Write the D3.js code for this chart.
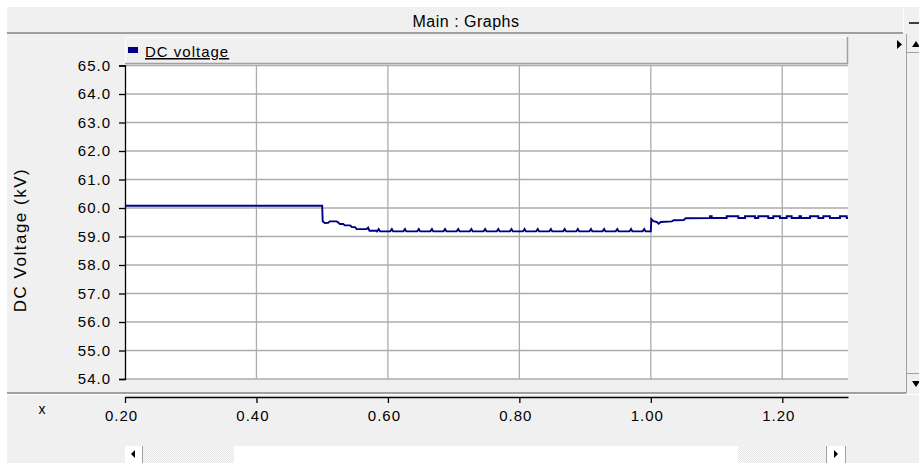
<!DOCTYPE html>
<html><head><meta charset="utf-8">
<script src="https://cdn.jsdelivr.net/npm/d3@7"></script>
<style>
html,body{margin:0;padding:0;background:#fff;overflow:hidden}
svg{display:block;font-family:"Liberation Sans",Arial,sans-serif}
</style></head><body>
<svg id="chart" width="919" height="463"></svg>
<script>
// ---------------- data ----------------
const chartTitle = "Main : Graphs";
const yAxisTitle = "DC Voltage (kV)";
const xAxisTitle = "x";
const seriesName = "DC voltage";
const xTickValues = [0.2, 0.4, 0.6, 0.8, 1.0, 1.2];
const yTickValues = [54, 55, 56, 57, 58, 59, 60, 61, 62, 63, 64, 65];
const xDomain = [0.2, 1.3];
const yDomain = [54, 65];
// [time (s), DC voltage (kV)]
const dcVoltage = [
  [0.200,60.08],[0.5000,60.08],[0.5008,59.53],[0.5040,59.47],[0.5090,59.48],[0.5115,59.53],
  [0.5220,59.53],[0.5245,59.49],[0.5270,59.44],[0.5320,59.44],[0.5345,59.39],[0.5425,59.39],
  [0.5440,59.36],[0.5450,59.33],[0.5500,59.33],[0.5525,59.26],[0.5675,59.26],[0.5700,59.31],
  [0.5720,59.20],[0.5830,59.20],
  [0.5835,59.18],[0.586,59.26],[0.588,59.18],
  [0.6035,59.18],[0.606,59.26],[0.608,59.18],
  [0.6235,59.18],[0.626,59.26],[0.628,59.18],
  [0.6445,59.18],[0.647,59.26],[0.649,59.18],
  [0.6645,59.18],[0.667,59.26],[0.669,59.18],
  [0.6845,59.18],[0.687,59.26],[0.689,59.18],
  [0.7045,59.18],[0.707,59.26],[0.709,59.18],
  [0.7245,59.18],[0.727,59.26],[0.729,59.18],
  [0.7455,59.18],[0.748,59.26],[0.750,59.18],
  [0.7655,59.18],[0.768,59.26],[0.770,59.18],
  [0.7855,59.18],[0.788,59.26],[0.790,59.18],
  [0.8055,59.18],[0.808,59.26],[0.810,59.18],
  [0.8255,59.18],[0.828,59.26],[0.830,59.18],
  [0.8455,59.18],[0.848,59.26],[0.850,59.18],
  [0.8665,59.18],[0.869,59.26],[0.871,59.18],
  [0.8865,59.18],[0.889,59.26],[0.891,59.18],
  [0.9065,59.18],[0.909,59.26],[0.911,59.18],
  [0.9265,59.18],[0.929,59.26],[0.931,59.18],
  [0.9465,59.18],[0.949,59.26],[0.951,59.18],
  [0.9675,59.18],[0.970,59.26],[0.972,59.18],
  [0.9875,59.18],[0.990,59.26],[0.992,59.18],
  [1.0000,59.18],
  [1.0008,59.61],[1.0040,59.54],[1.0090,59.51],[1.0120,59.45],[1.0150,59.51],[1.0320,59.53],
  [1.0350,59.57],[1.0500,59.58],[1.0530,59.64],[1.0900,59.65],
  [1.0900,59.71],[1.0926,59.71],[1.0926,59.65],
  [1.1154,59.65],[1.1154,59.71],[1.1331,59.71],[1.1331,59.65],
  [1.1433,59.65],[1.1433,59.71],[1.1585,59.71],[1.1585,59.65],
  [1.1635,59.65],[1.1635,59.71],[1.1787,59.71],[1.1787,59.65],
  [1.1863,59.65],[1.1863,59.71],[1.1965,59.71],[1.1965,59.65],
  [1.2067,59.65],[1.2067,59.71],[1.2143,59.71],[1.2143,59.65],
  [1.2260,59.65],[1.2260,59.71],[1.2285,59.71],[1.2285,59.65],
  [1.2422,59.65],[1.2422,59.71],[1.2548,59.71],[1.2548,59.65],
  [1.2624,59.65],[1.2624,59.71],[1.2725,59.71],[1.2725,59.65],
  [1.2878,59.65],[1.2878,59.71],[1.2980,59.71],[1.2980,59.65],
  [1.3000,59.65]
];

// ---------------- layout ----------------
const svg = d3.select("#chart");
const panel = "#f0f0f0", edge = "#a0a0a0", grid = "#acacac", navy = "#000080";
const plotL = 125, plotR = 848, plotT = 65.5, plotB = 379;

const defs = svg.append("defs");
const pat = defs.append("pattern").attr("id","hatch").attr("width",2).attr("height",2)
  .attr("patternUnits","userSpaceOnUse");
pat.append("rect").attr("width",2).attr("height",2).attr("fill","#fff");
pat.append("rect").attr("width",1).attr("height",1).attr("fill","#e2e2e2");
pat.append("rect").attr("x",1).attr("y",1).attr("width",1).attr("height",1).attr("fill","#e2e2e2");
defs.append("clipPath").attr("id","plotclip").append("rect")
  .attr("x",plotL).attr("y",plotT).attr("width",plotR-plotL).attr("height",plotB-plotT);

// widget background
svg.append("rect").attr("x",7).attr("y",7).attr("width",912).attr("height",456).attr("fill",panel);
// title bar
svg.append("line").attr("x1",7).attr("x2",903).attr("y1",33).attr("y2",33).attr("stroke",edge).attr("stroke-width",2);
svg.append("text").attr("x",466).attr("y",27).attr("text-anchor","middle")
  .attr("font-size",16).attr("letter-spacing",0.5).attr("fill","#000").text(chartTitle);
// minimize button
svg.append("rect").attr("x",903).attr("y",8).attr("width",16).attr("height",25).attr("fill",panel);
svg.append("line").attr("x1",903.5).attr("x2",903.5).attr("y1",8).attr("y2",33).attr("stroke","#fff");
svg.append("line").attr("x1",909).attr("x2",919).attr("y1",23).attr("y2",23).attr("stroke","#000").attr("stroke-width",1.5);

// right vertical scrollbar
svg.append("line").attr("x1",906.5).attr("x2",906.5).attr("y1",34).attr("y2",393).attr("stroke",edge);
svg.append("line").attr("x1",907).attr("x2",919).attr("y1",52.5).attr("y2",52.5).attr("stroke",edge);
svg.append("line").attr("x1",907).attr("x2",919).attr("y1",373.5).attr("y2",373.5).attr("stroke",edge);
svg.append("path").attr("d","M912,47 L920,47 L916,41 Z").attr("fill","#000");
svg.append("path").attr("d","M912,381 L920,381 L916,387 Z").attr("fill","#000");
svg.append("path").attr("d","M897,40 L902,44.5 L897,49 Z").attr("fill","#000");

// legend strip
svg.append("rect").attr("x",125).attr("y",37).attr("width",723).attr("height",27).attr("fill",panel);
svg.append("path").attr("d","M125.5,64 V37.5 H847").attr("fill","none").attr("stroke","#fff");
svg.append("path").attr("d","M125,63.5 H847.5 V37").attr("fill","none").attr("stroke",edge).attr("stroke-width",1.5);
svg.append("rect").attr("x",128).attr("y",47).attr("width",10).attr("height",6).attr("fill",navy);
svg.append("text").attr("x",145).attr("y",57).attr("font-size",15).attr("letter-spacing",1)
  .attr("text-decoration","underline").attr("fill","#000").text(seriesName);

// plot area
const x = d3.scaleLinear().domain(xDomain).range([plotL, plotR]);
const y = d3.scaleLinear().domain(yDomain).range([plotB, plotT]);
svg.append("rect").attr("x",plotL).attr("y",plotT).attr("width",plotR-plotL).attr("height",plotB-plotT).attr("fill","#fff");

svg.append("g").selectAll("line").data(xTickValues.slice(1)).join("line")
  .attr("x1",d=>x(d)).attr("x2",d=>x(d)).attr("y1",plotT).attr("y2",plotB)
  .attr("stroke",grid).attr("stroke-width",1.3);
svg.append("g").selectAll("line").data(yTickValues).join("line")
  .attr("x1",plotL).attr("x2",plotR).attr("y1",d=>y(d)).attr("y2",d=>y(d))
  .attr("stroke",grid).attr("stroke-width",1.3);

// series
const line = d3.line().x(d=>x(d[0])).y(d=>y(d[1]));
svg.append("path").datum(dcVoltage).attr("clip-path","url(#plotclip)")
  .attr("d",line).attr("fill","none").attr("stroke",navy).attr("stroke-width",1.9)
  .attr("stroke-linejoin","miter");

// y axis
const yAxis = svg.append("g").attr("transform",`translate(${plotL},0)`)
  .call(d3.axisLeft(y).tickValues(yTickValues).tickFormat(d3.format(".1f")).tickSize(6).tickPadding(8));
yAxis.selectAll("path,line").attr("stroke","#000").attr("stroke-width",1.3);
yAxis.selectAll("text").attr("font-size",15).attr("letter-spacing",1).attr("fill","#000")
  .attr("font-family","Liberation Sans, Arial, sans-serif");
svg.append("text").attr("transform","translate(26,240) rotate(-90)").attr("text-anchor","middle")
  .attr("font-size",17).attr("letter-spacing",1.5).attr("fill","#000").text(yAxisTitle);

// separator between plot and x axis
svg.append("line").attr("x1",7).attr("x2",906).attr("y1",393).attr("y2",393).attr("stroke",edge).attr("stroke-width",2);
svg.append("line").attr("x1",7).attr("x2",919).attr("y1",394.5).attr("y2",394.5).attr("stroke","#fff");

// x axis
const xAxis = svg.append("g").attr("transform","translate(0,397)")
  .call(d3.axisBottom(x).tickValues(xTickValues).tickFormat(d3.format(".2f")).tickSize(6).tickSizeOuter(0).tickPadding(7));
xAxis.selectAll("path,line").attr("stroke","#000").attr("stroke-width",1.3);
xAxis.selectAll("text").attr("font-size",15).attr("letter-spacing",1).attr("dx",-4).attr("fill","#000")
  .attr("font-family","Liberation Sans, Arial, sans-serif");
svg.append("text").attr("x",42).attr("y",414).attr("text-anchor","middle").attr("font-size",14).attr("fill","#000").text(xAxisTitle);

// bottom scrollbar
svg.append("rect").attr("x",125).attr("y",446).attr("width",721).attr("height",17).attr("fill","#fff");
svg.append("rect").attr("x",143).attr("y",446).attr("width",91).attr("height",17).attr("fill","url(#hatch)");
svg.append("rect").attr("x",738).attr("y",446).attr("width",88).attr("height",17).attr("fill","url(#hatch)");
svg.append("line").attr("x1",142.5).attr("x2",142.5).attr("y1",446).attr("y2",463).attr("stroke",edge);
svg.append("line").attr("x1",826.5).attr("x2",826.5).attr("y1",446).attr("y2",463).attr("stroke",edge);
svg.append("line").attr("x1",845.5).attr("x2",845.5).attr("y1",446).attr("y2",463).attr("stroke",edge);
svg.append("path").attr("d","M135,450 L135,458 L131,454 Z").attr("fill","#000");
svg.append("path").attr("d","M834,450 L834,458 L838,454 Z").attr("fill","#000");
</script></body></html>
